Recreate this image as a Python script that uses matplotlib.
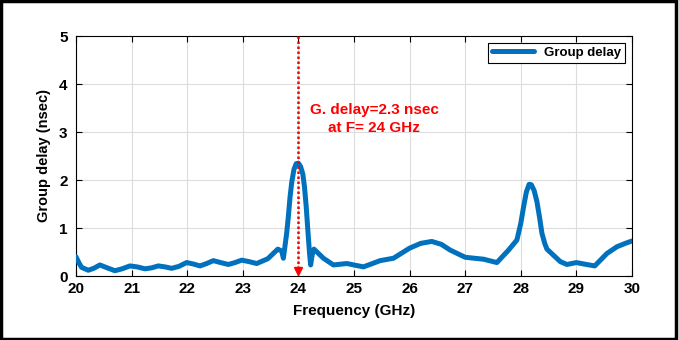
import numpy as np
import matplotlib
matplotlib.use("Agg")
import matplotlib.pyplot as plt
from matplotlib.patches import Rectangle

# values
freq_ghz = [20.00, 20.05, 20.10, 20.22, 20.32, 20.43, 20.56, 20.70, 20.83, 20.97, 21.10,
            21.24, 21.36, 21.48, 21.60, 21.72, 21.85, 21.99, 22.11, 22.23, 22.35,
            22.47, 22.60, 22.74, 22.86, 22.98, 23.11, 23.25, 23.45, 23.63, 23.70, 23.73,
            23.79, 23.82, 23.85, 23.88, 23.92, 23.96, 24.00, 24.04, 24.08, 24.11,
            24.14, 24.17, 24.20, 24.22, 24.25, 24.28,
            24.45, 24.63, 24.87, 25.17, 25.47, 25.71, 26.00, 26.20, 26.40, 26.57,
            26.73, 27.00, 27.33, 27.57, 27.78, 27.93, 28.00, 28.05, 28.10, 28.15,
            28.19, 28.24, 28.29, 28.34, 28.38, 28.43, 28.47, 28.71, 28.83, 29.00,
            29.18, 29.33, 29.55, 29.73, 29.88, 30.00]
group_delay = [0.40, 0.28, 0.18, 0.12, 0.16, 0.23, 0.17, 0.11, 0.15, 0.21, 0.19,
               0.15, 0.17, 0.21, 0.19, 0.16, 0.20, 0.28, 0.25, 0.21, 0.26,
               0.32, 0.28, 0.24, 0.28, 0.33, 0.30, 0.26, 0.36, 0.56, 0.52, 0.37,
               0.90, 1.25, 1.65, 1.95, 2.22, 2.34, 2.35, 2.28, 2.12, 1.85,
               1.45, 0.95, 0.48, 0.23, 0.45, 0.56,
               0.37, 0.23, 0.26, 0.19, 0.32, 0.37, 0.58, 0.68, 0.72, 0.66,
               0.54, 0.39, 0.35, 0.28, 0.54, 0.75, 1.10, 1.44, 1.75, 1.91,
               1.90, 1.78, 1.55, 1.20, 0.89, 0.68, 0.56, 0.30, 0.24, 0.28,
               0.24, 0.21, 0.47, 0.61, 0.68, 0.73]
x_ticks = list(range(20, 31))
y_ticks = list(range(0, 6))
marker_freq = 24
note_text = "G. delay=2.3 nsec\nat F= 24 GHz"

plt.rcParams["font.family"] = ["Liberation Sans", "DejaVu Sans"]
plt.rcParams["font.weight"] = "bold"

fig = plt.figure(figsize=(6.79, 3.40), dpi=100)
ax = fig.add_axes([76 / 679, 1 - 276 / 340, 556 / 679, 240 / 340])

ax.plot(freq_ghz, group_delay, color="#0072BD", lw=3.6,
        solid_joinstyle="round", solid_capstyle="round", label="Group delay", zorder=3)

# marker line at 24 GHz with arrow head
ax.plot([marker_freq, marker_freq], [5, 0.06], color="red", lw=1.8,
        linestyle=(0, (1, 1)), zorder=4)
ax.plot(marker_freq, 0.1, marker="v", color="red", ms=6, clip_on=False, zorder=5)
ax.text(25.36, 3.27, note_text, color="red", fontsize=11, fontweight="bold",
        ha="center", va="center", linespacing=1.35)

ax.set_xlim(20, 30)
ax.set_ylim(0, 5)
ax.set_xticks(x_ticks)
ax.set_yticks(y_ticks)
ax.tick_params(direction="in", top=True, right=True, length=4, labelsize=11)
ax.tick_params(axis="y", pad=6)
ax.tick_params(axis="x", pad=4)
ax.grid(True, color="#dcdcdc", lw=0.8)
ax.set_axisbelow(True)
for s in ax.spines.values():
    s.set_linewidth(0.8)

ax.set_xlabel("Frequency (GHz)", fontsize=11, fontweight="bold", labelpad=6)
ax.set_ylabel("Group delay (nsec)", fontsize=10.5, fontweight="bold", labelpad=6)

leg = ax.legend(loc="upper right", fontsize=9.5, handlelength=3.2,
                fancybox=False, framealpha=1, edgecolor="black",
                borderaxespad=0.5, borderpad=0.3)
leg.get_frame().set_linewidth(0.8)

# dark frame around the whole picture
fig.patches.append(Rectangle((0.002, 0.004), 0.994, 0.993, transform=fig.transFigure,
                             fill=False, edgecolor="black", lw=2.5))

fig.savefig("out.png", dpi=100)
